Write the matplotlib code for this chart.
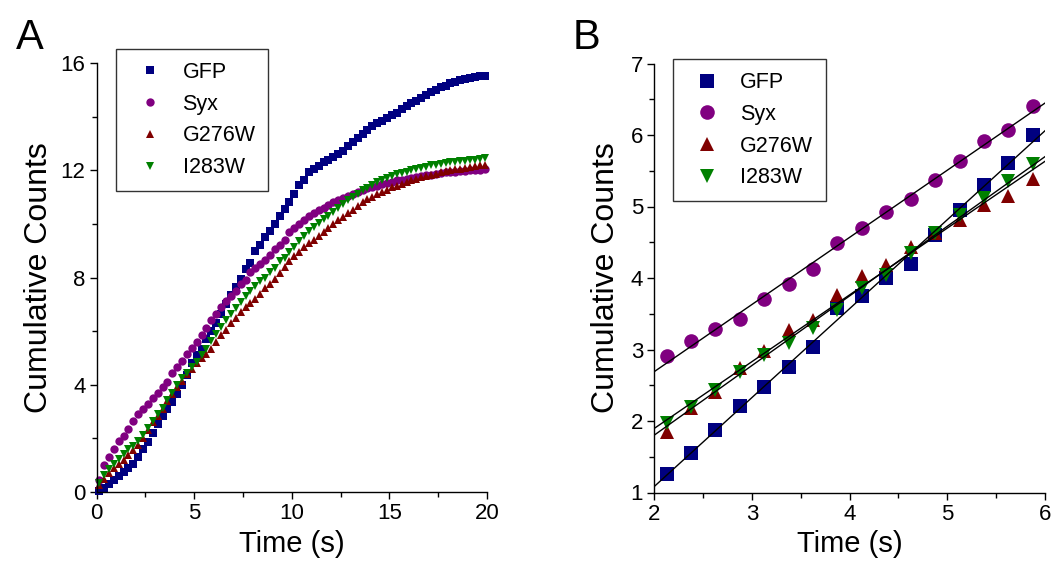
import numpy as np
import matplotlib
matplotlib.use("Agg")
import matplotlib.pyplot as plt
from matplotlib.ticker import MultipleLocator

plt.rcParams['font.family'] = ['Liberation Sans', 'DejaVu Sans']

# ---------------- Panel A data ----------------
time_a = np.arange(0.125, 20.0, 0.25)

gfp_a = [0.05, 0.15, 0.3, 0.45, 0.6, 0.75, 0.88, 1.05, 1.3, 1.6,
         1.85, 2.2, 2.55, 2.85, 3.1, 3.35, 3.65, 4.0, 4.35, 4.8,
         5.1, 5.35, 5.7, 6.0, 6.3, 6.65, 7.0, 7.35, 7.65, 7.95,
         8.3, 8.55, 9.0, 9.2, 9.5, 9.75, 10.0, 10.3, 10.55, 10.8,
         11.1, 11.45, 11.65, 11.95, 12.05, 12.15, 12.3, 12.4, 12.5, 12.6,
         12.7, 12.9, 13.05, 13.2, 13.35, 13.5, 13.65, 13.75, 13.85, 13.95,
         14.05, 14.15, 14.3, 14.4, 14.5, 14.6, 14.7, 14.8, 14.9, 15.0,
         15.1, 15.15, 15.25, 15.3, 15.35, 15.4, 15.43, 15.47, 15.5, 15.52]

syx_a = [0.45, 1.0, 1.3, 1.6, 1.9, 2.1, 2.35, 2.65, 2.9, 3.1,
         3.3, 3.5, 3.68, 3.9, 4.12, 4.45, 4.65, 4.9, 5.15, 5.36,
         5.6, 5.85, 6.1, 6.4, 6.65, 6.9, 7.12, 7.3, 7.5, 7.75,
         7.9, 8.2, 8.35, 8.5, 8.65, 8.85, 9.05, 9.2, 9.4, 9.68,
         9.85, 10.0, 10.15, 10.3, 10.42, 10.5, 10.6, 10.72, 10.8, 10.9,
         10.98, 11.05, 11.12, 11.18, 11.25, 11.32, 11.38, 11.43, 11.48, 11.54,
         11.58, 11.62, 11.65, 11.68, 11.72, 11.75, 11.78, 11.81, 11.84, 11.87,
         11.9, 11.92, 11.94, 11.95, 11.96, 11.98, 12.0, 12.01, 12.02, 12.03]

g276w_a = [0.25, 0.5, 0.7, 0.9, 1.05, 1.2, 1.38, 1.55, 1.75, 2.0,
           2.3, 2.6, 2.85, 3.1, 3.4, 3.65, 3.9, 4.15, 4.4, 4.6,
           4.8, 5.0, 5.15, 5.35, 5.6, 5.85, 6.05, 6.3, 6.48, 6.7,
           6.9, 7.05, 7.2, 7.4, 7.6, 7.75, 7.95, 8.15, 8.4, 8.6,
           8.8, 8.95, 9.15, 9.28, 9.4, 9.55, 9.71, 9.85, 10.0, 10.15,
           10.27, 10.4, 10.5, 10.65, 10.8, 10.92, 11.0, 11.1, 11.18, 11.27,
           11.36, 11.43, 11.5, 11.55, 11.62, 11.68, 11.74, 11.78, 11.82, 11.86,
           11.92, 11.96, 12.0, 12.03, 12.06, 12.09, 12.12, 12.15, 12.18, 12.2]

i283w_a = [0.35, 0.65, 0.85, 1.05, 1.22, 1.4, 1.6, 1.72, 1.9, 2.12,
           2.38, 2.65, 2.9, 3.15, 3.43, 3.7, 3.98, 4.25, 4.45, 4.65,
           4.85, 5.1, 5.35, 5.65, 5.9, 6.15, 6.4, 6.65, 6.88, 7.1,
           7.3, 7.5, 7.7, 7.88, 8.0, 8.22, 8.35, 8.6, 8.72, 8.95,
           9.15, 9.35, 9.55, 9.72, 9.9, 10.05, 10.18, 10.3, 10.45, 10.6,
           10.75, 10.88, 11.0, 11.12, 11.25, 11.35, 11.45, 11.55, 11.62, 11.7,
           11.8, 11.85, 11.9, 11.95, 12.0, 12.05, 12.08, 12.13, 12.18, 12.2,
           12.23, 12.26, 12.29, 12.31, 12.33, 12.36, 12.38, 12.4, 12.42, 12.45]

# ---------------- Panel B data ----------------
time_b = np.arange(2.125, 6.0, 0.25)
gfp_b = [1.26, 1.55, 1.87, 2.21, 2.47, 2.76, 3.04, 3.58, 3.75, 4.00,
         4.20, 4.60, 4.95, 5.30, 5.61, 6.00]
syx_b = [2.91, 3.12, 3.29, 3.43, 3.71, 3.91, 4.12, 4.49, 4.70, 4.93,
         5.10, 5.37, 5.64, 5.91, 6.07, 6.40]
g276w_b = [1.85, 2.18, 2.41, 2.74, 2.98, 3.27, 3.41, 3.76, 4.03, 4.18,
           4.44, 4.63, 4.81, 5.02, 5.14, 5.38]
i283w_b = [1.97, 2.20, 2.44, 2.69, 2.92, 3.09, 3.30, 3.55, 3.86, 4.04,
           4.35, 4.63, 4.88, 5.12, 5.36, 5.60]

labels = ["GFP", "Syx", "G276W", "I283W"]
colors = ["#000080", "#800080", "#800000", "#008000"]
markers = ["s", "o", "^", "v"]

W, H = 1054, 567
fig = plt.figure(figsize=(W / 100, H / 100), dpi=100)

def frac(x0, x1, y0, y1):
    return [x0 / W, 1 - y1 / H, (x1 - x0) / W, (y1 - y0) / H]

axA = fig.add_axes(frac(96.7, 487, 63, 492))
axB = fig.add_axes(frac(654.3, 1045, 63.5, 492.5))

def style(ax):
    for s in ["top", "right"]:
        ax.spines[s].set_visible(False)
    for s in ["left", "bottom"]:
        ax.spines[s].set_linewidth(1.0)
    ax.tick_params(which="major", direction="out", length=5, width=1,
                   labelsize=16, pad=3)
    ax.tick_params(which="minor", direction="out", length=3.5, width=1)

leg_kw = dict(loc="upper left", fontsize=15.5, frameon=True, fancybox=False,
              edgecolor="black", labelspacing=0.5, handletextpad=0.5,
              borderpad=0.6, handlelength=2.0, borderaxespad=0.0)

# Panel A
for y, lab, c, m in zip([gfp_a, syx_a, g276w_a, i283w_a], labels, colors, markers):
    axA.plot(time_a, y, linestyle="none", marker=m, color=c, markersize=6,
             markeredgewidth=0, label=lab, clip_on=False)
axA.set_xlim(0, 20)
axA.set_ylim(0, 16)
axA.xaxis.set_major_locator(MultipleLocator(5))
axA.xaxis.set_minor_locator(MultipleLocator(2.5))
axA.yaxis.set_major_locator(MultipleLocator(4))
axA.yaxis.set_minor_locator(MultipleLocator(2))
style(axA)
axA.set_xlabel("Time (s)", fontsize=21, labelpad=4)
axA.set_ylabel("Cumulative Counts", fontsize=23, labelpad=5)
legA = axA.legend(bbox_to_anchor=(0.049, 1.033), **leg_kw)
legA.get_frame().set_linewidth(1.0)

# Panel B
xs = np.array([2.0, 6.0])
for y, lab, c, m in zip([gfp_b, syx_b, g276w_b, i283w_b], labels, colors, markers):
    axB.plot(time_b, y, linestyle="none", marker=m, color=c, markersize=10.5,
             markeredgewidth=0, label=lab)
for y in [gfp_b, syx_b, g276w_b, i283w_b]:
    k, b = np.polyfit(time_b, y, 1)
    axB.plot(xs, k * xs + b, color="black", linewidth=1.0, zorder=3)
axB.set_xlim(2, 6)
axB.set_ylim(1, 7)
axB.xaxis.set_major_locator(MultipleLocator(1))
axB.xaxis.set_minor_locator(MultipleLocator(0.5))
axB.yaxis.set_major_locator(MultipleLocator(1))
axB.yaxis.set_minor_locator(MultipleLocator(0.5))
style(axB)
axB.set_xlabel("Time (s)", fontsize=21, labelpad=4)
axB.set_ylabel("Cumulative Counts", fontsize=23, labelpad=7)
legB = axB.legend(bbox_to_anchor=(0.048, 1.01), **leg_kw)
legB.get_frame().set_linewidth(1.0)

fig.text(30 / W, 1 - 38 / H, "A", fontsize=30, ha="center", va="center")
fig.text(586 / W, 1 - 38 / H, "B", fontsize=30, ha="center", va="center")

fig.savefig("out.png", dpi=100)
